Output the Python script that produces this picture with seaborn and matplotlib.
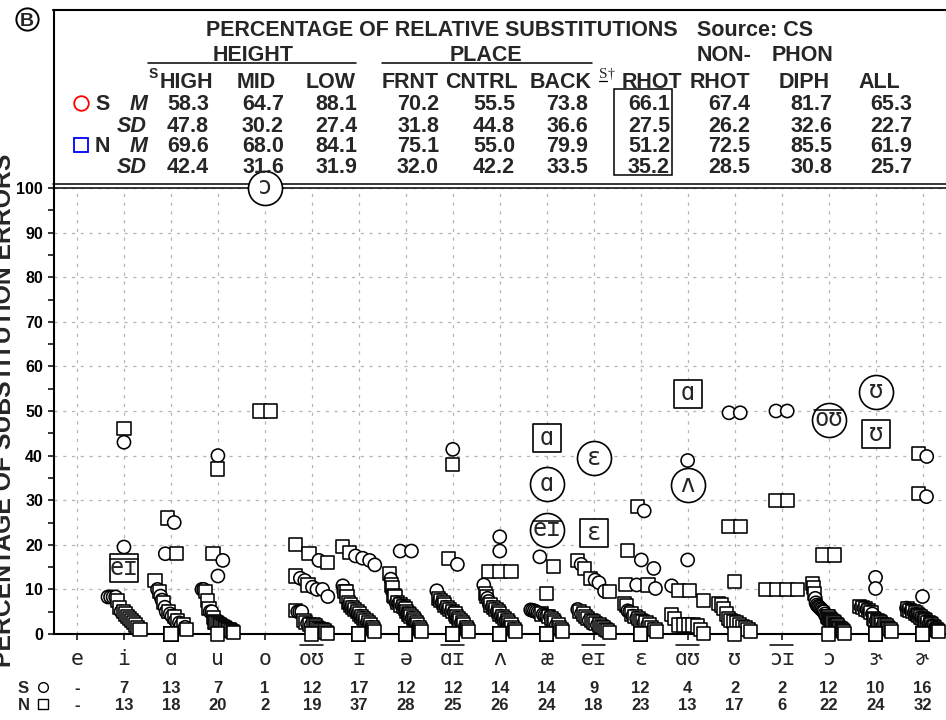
import numpy as np
import pandas as pd
import matplotlib
matplotlib.use("Agg")
import matplotlib.pyplot as plt
from matplotlib.lines import Line2D
from matplotlib.patches import Rectangle
from matplotlib.transforms import blended_transform_factory
import seaborn as sns

# ---------------------------------------------------------------- data
vowels = ["e", "i", "ɑ", "u", "o", "oʊ", "ɪ", "ə", "ɑɪ", "ʌ", "æ", "eɪ",
          "ɛ", "ɑʊ", "ʊ", "ɔɪ", "ɔ", "ɝ", "ɚ"]
diphthongs = ["oʊ", "ɑɪ", "eɪ", "ɑʊ", "ɔɪ"]

s_counts = ["-", "7", "13", "7", "1", "12", "17", "12", "12", "14", "14", "9",
            "12", "4", "2", "2", "12", "10", "16"]
n_counts = ["-", "13", "18", "20", "2", "19", "37", "28", "25", "26", "24", "18",
            "23", "13", "17", "6", "22", "24", "32"]

# per-speaker substitution percentages, S group (circles)
s_values = {
    "e": [],
    "i": [43, 19.5, 8.3, 8.3, 8.3, 8.3, 5],
    "ɑ": [25, 18, 10, 8.5, 7.6, 6, 5, 4.5, 4, 3, 2.5, 2, 1.5],
    "u": [40, 16.5, 13, 10, 10, 5, 5],
    "o": [],
    "oʊ": [16.5, 12.5, 12, 10.5, 10, 10, 8.4, 5, 5, 5, 2.3, 2],
    "ɪ": [17.5, 17, 16.5, 15.5, 10.8, 9.5, 6.5, 6, 5.5, 5, 4.5, 4, 3.5, 3,
          2.5, 2, 1.5],
    "ə": [18.6, 18.6, 12.3, 7, 6.8, 6.5, 6.3, 6, 4.5, 3.5, 2.5, 1.5],
    "ɑɪ": [41.4, 15.6, 9.7, 7.5, 7, 6, 5.5, 5, 4.9, 3.5, 2.5, 1.5],
    "ʌ": [21.8, 18.6, 11, 8, 7.3, 6.5, 6, 5.5, 5, 4, 3.5, 3, 2, 1],
    "æ": [17.3, 5.4, 5.3, 5.2, 5, 4.8, 4.6, 4.4, 4.2, 4, 3.9, 2],
    "eɪ": [15.6, 12.1, 11.5, 9.6, 5.5, 4.5, 3, 2],
    "ɛ": [27.6, 16.6, 14.7, 11, 10.2, 5.2, 5, 4, 3.5, 2.5, 2, 1],
    "ɑʊ": [38.9, 16.6, 10.8],
    "ʊ": [49.6, 49.6],
    "ɔɪ": [50, 50],
    "ɔ": [8, 7, 6.5, 6.2, 6, 5.7, 5.5, 5.2, 5, 4.5, 4],
    "ɝ": [12.7, 10.2, 6, 5.8, 5.5, 5, 4.5, 3, 2],
    "ɚ": [39.8, 30.8, 8.4, 5.8, 5.5, 5.2, 5, 4.7, 4.4, 4, 3.6, 3.2, 2.8, 2.3,
          1.8, 1.3],
}

# N group (squares)
n_values = {
    "e": [],
    "i": [46, 7.5, 6, 5, 4.5, 4, 3.5, 3, 2.5, 2, 1.5, 1],
    "ɑ": [26, 18, 12, 9.5, 7, 5, 4, 3, 2, 1, 0, 0, 0, 0, 0, 0, 0, 0],
    "u": [37, 18, 9.5, 7.5, 5.8, 3.7, 2.7, 2.5, 2.3, 2.1, 1.9, 1.7, 1.5, 1.3,
          1.1, 0.9, 0.7, 0.5, 0.3, 0],
    "o": [50, 50],
    "oʊ": [20, 18, 16, 13, 11, 5.2, 3, 2.5, 2.2, 2, 1.8, 1.5, 1.3, 1.1, 0.9,
           0.7, 0.4, 0.2, 0],
    "ɪ": [19.6, 18.3, 9.5, 9.5, 8.5, 7, 6.5, 6, 5.5, 5, 4.5, 4, 3.5, 3, 2.5,
          2, 1.5, 1, 0.5] + [0] * 18,
    "ə": [13.6, 11, 10.4, 8.7, 8.4, 7, 6.5, 6.2, 5.8, 4.4, 5, 4.5, 4, 3.5, 3,
          2.5, 2, 1.5, 1, 0.5] + [0] * 8,
    "ɑɪ": [38, 17, 8, 7.5, 7, 6.5, 6, 5.5, 5, 4.5, 4, 3.5, 3, 2.5, 2, 1.5, 1,
           0.5] + [0] * 7,
    "ʌ": [14, 14, 14, 9.1, 8.4, 6.5, 6, 5.5, 5, 4.5, 4, 3.5, 3, 2.5, 2, 1.5, 1,
          0.5] + [0] * 8,
    "æ": [15.2, 9.1, 4.5, 4, 3.5, 3, 2.5, 2, 1.5, 1, 0.5] + [0] * 12,
    "eɪ": [16.4, 14.7, 12.5, 9.6, 5, 4.5, 4, 3.5, 3, 2.7, 2.4, 2, 1.7, 1.4, 1,
           0.7, 0.4],
    "ɛ": [28.5, 18.7, 11.1, 11, 6.9, 6.4, 4.5, 2.8, 4, 3.5, 3, 2.5, 2, 1.5, 1,
          0.5] + [0] * 7,
    "ɑʊ": [9.7, 9.7, 7.5, 4.3, 3.5, 2, 2, 2, 2, 1.8, 1, 0.2],
    "ʊ": [24.1, 24.1, 11.7, 6.9, 6.5, 5.8, 4.5, 3.5, 3, 2.8, 2.5, 2, 1.7, 1.4,
          1, 0.5, 0],
    "ɔɪ": [30, 30, 10, 10, 10, 10],
    "ɔ": [17.7, 17.7, 11.4, 10.5, 9.1, 4, 3.8, 3.5, 3.2, 3, 2.8, 2.5, 2.2, 2,
          1.8, 1.5, 1.2, 1, 0.7, 0.5, 0.2, 0],
    "ɝ": [6.2, 6, 5.6, 5.2, 4.8, 3.5, 3.2, 3, 2.8, 2.5, 2.2, 2, 1.8, 1.5, 1.2,
          1, 0.5] + [0] * 6,
    "ɚ": [40.4, 31.5, 5.6, 5.3, 5, 4.7, 4.4, 4.1, 3.8, 3.5, 3.2, 2.9, 2.6, 2.3,
          2, 1.7, 1.4, 1.1, 0.8, 0.5] + [0] * 12,
}

# speakers whose errors were dominated by one substitute vowel
lab_vowel = ["o", "i", "æ", "æ", "æ", "eɪ", "eɪ", "ɑʊ", "ɑʊ", "ɔ", "ɝ", "ɝ"]
lab_group = ["S", "N", "N", "S", "S", "S", "N", "N", "S", "S", "S", "N"]
lab_value = [100, 14.7, 43.9, 33.6, 23.3, 39.4, 22.6, 53.8, 33.3, 48, 54.3, 44.8]
lab_text = ["ɔ", "eɪ", "ɑ", "ɑ", "eɪ", "ɛ", "ɛ", "ɑ", "ʌ", "oʊ", "ʊ", "ʊ"]

# summary table
col_names = ["HIGH", "MID", "LOW", "FRNT", "CNTRL", "BACK", "RHOT", "RHOT",
             "DIPH", "ALL"]
s_mean = [58.3, 64.7, 88.1, 70.2, 55.5, 73.8, 66.1, 67.4, 81.7, 65.3]
s_sd = [47.8, 30.2, 27.4, 31.8, 44.8, 36.6, 27.5, 26.2, 32.6, 22.7]
n_mean = [69.6, 68.0, 84.1, 75.1, 55.0, 79.9, 51.2, 72.5, 85.5, 61.9]
n_sd = [42.4, 31.6, 31.9, 32.0, 42.2, 33.5, 35.2, 28.5, 30.8, 25.7]

W, H = 946, 720
X_LEFT, Y_TOP, Y_BASE = 53.5, 188, 634
CAT_PX = (W - X_LEFT) / len(vowels)


# ---------------------------------------------------------------- layout helpers
def cascade_offsets(values, h=2.4, step=0.24, slope=0.14, span_max=0.68):
    """Stagger overlapping points of one category, high values to the left.

    Equal values sit side by side; close values step down a diagonal.
    Zeros and isolated points stay on the category centre.
    """
    v = np.asarray(values, float)
    off = np.zeros(len(v))
    idx = [i for i in np.argsort(-v, kind="stable") if v[i] > 0]
    runs, cur = [], []
    for i in idx:
        if cur and v[cur[-1]] - v[i] >= h:
            runs.append(cur)
            cur = []
        cur.append(i)
    if cur:
        runs.append(cur)
    for run in runs:
        if len(run) < 2:
            continue
        x = [0.0]
        for a, b in zip(run[:-1], run[1:]):
            dy = v[a] - v[b]
            x.append(x[-1] + max(step * (1 - dy / h), slope * dy))
        x = np.array(x)
        if x[-1] > span_max:
            x *= span_max / x[-1]
        off[run] = x - x[-1] / 2
    return off


rows = []
for k, v in enumerate(vowels):
    vals = list(s_values[v]) + list(n_values[v])
    grp = ["S"] * len(s_values[v]) + ["N"] * len(n_values[v])
    if not vals:
        continue
    off = cascade_offsets(vals)
    for val, g, o in zip(vals, grp, off):
        rows.append({"vowel": v, "pos": k, "x": k + o, "value": val, "group": g})
pts = pd.DataFrame(rows)
pts = pts.sort_values(["pos", "value"], ascending=[True, False], kind="stable")

pos = {v: k for k, v in enumerate(vowels)}
lab = pd.DataFrame({"vowel": lab_vowel, "group": lab_group,
                    "value": lab_value, "text": lab_text})
lab["x"] = lab["vowel"].map(pos)

# ---------------------------------------------------------------- figure
sns.set_theme(style="ticks")
plt.rcParams["font.family"] = ["Liberation Sans", "DejaVu Sans"]
plt.rcParams["axes.edgecolor"] = "black"
plt.rcParams["xtick.color"] = "black"
plt.rcParams["ytick.color"] = "black"

fig = plt.figure(figsize=(W / 100, H / 100), dpi=100, facecolor="white")


def fx(x):
    return x / W


def fy(y):
    return 1 - y / H


ax = fig.add_axes([fx(X_LEFT), fy(Y_BASE), (W - X_LEFT) / W,
                   (Y_BASE - Y_TOP) / H])
ax.set_xlim(-0.5, len(vowels) - 0.5)
ax.set_ylim(0, 100)
ax.set_axisbelow(True)

ax.grid(True, which="major", color="#b4b4b4", linestyle=(0, (2.5, 4.5)),
        linewidth=0.9)

sns.scatterplot(data=pts, x="x", y="value", style="group",
                markers={"S": "o", "N": "s"}, style_order=["S", "N"],
                s=90, color="white", edgecolor="black", linewidth=1.15,
                legend=False, ax=ax, zorder=4, clip_on=False)

circ = lab[lab.group == "S"]
box = lab[lab.group == "N"]
sns.scatterplot(data=circ, x="x", y="value", marker="o", s=600, color="white",
                edgecolor="black", linewidth=1.2, legend=False, ax=ax,
                zorder=6, clip_on=False)
sns.scatterplot(data=box, x="x", y="value", marker="s", s=400, color="white",
                edgecolor="black", linewidth=1.2, legend=False, ax=ax,
                zorder=6, clip_on=False)


def disp_offset(x, y, dx, dy):
    d = ax.transData.transform((x, y))
    return ax.transData.inverted().transform((d[0] + dx, d[1] + dy))


ipa_font = "DejaVu Sans Mono"
lab_fs = 17
fs_px = lab_fs * 100 / 72
for r in lab.itertuples():
    bx, by = disp_offset(r.x, r.value, 0, -0.27 * fs_px)
    ax.text(bx, by, r.text, ha="center", va="baseline", fontsize=lab_fs,
            family=ipa_font, zorder=7, clip_on=False)
    if r.text in diphthongs:
        half = 0.6 * fs_px * len(r.text) / 2
        (x0, y0) = disp_offset(r.x, r.value, -half, 0.4 * fs_px)
        (x1, _) = disp_offset(r.x, r.value, half, 0)
        ax.plot([x0, x1], [y0, y0], color="black", lw=1.1, zorder=7,
                clip_on=False)

# axes styling
for side in ["left", "bottom"]:
    ax.spines[side].set_linewidth(1.5)
ax.spines["top"].set_linewidth(1.1)
ax.spines["right"].set_visible(False)

ax.set_yticks(np.arange(0, 101, 10))
ax.set_yticks(np.arange(5, 100, 10), minor=True)
ax.set_yticklabels([str(t) for t in range(0, 101, 10)], fontweight="bold",
                   fontsize=11.5)
ax.tick_params(axis="y", which="both", direction="out", length=4.5, width=1.1,
               pad=3)
ax.set_xticks(range(len(vowels)))
ax.set_xticklabels([])
ax.tick_params(axis="x", which="both", direction="out", length=4.5, width=1.1)
ax.set_xlabel("")
ax.set_ylabel("")

# vowel labels beneath the axis, diphthongs overlined
xt = blended_transform_factory(ax.transData, fig.transFigure)
for k, v in enumerate(vowels):
    ax.text(k, fy(665), v, transform=xt, ha="center", va="baseline",
            fontsize=15.5, family=ipa_font, clip_on=False)
    if v in diphthongs:
        w = 11.5 / CAT_PX
        ax.plot([k - w, k + w], [fy(645)] * 2, transform=xt, color="black",
                lw=1.1, clip_on=False)
    ax.text(k, fy(693), s_counts[k], transform=xt, ha="center",
            va="baseline", fontsize=12, fontweight="bold")
    ax.text(k, fy(710), n_counts[k], transform=xt, ha="center",
            va="baseline", fontsize=12, fontweight="bold")

fig.text(fx(18), fy(693), "S", ha="left", va="baseline", fontsize=12,
         fontweight="bold")
fig.text(fx(18), fy(710), "N", ha="left", va="baseline", fontsize=12,
         fontweight="bold")
fig.add_artist(Line2D([fx(43)], [fy(687)], marker="o", ms=7, mfc="white",
                      mec="black", mew=1.0, transform=fig.transFigure))
fig.add_artist(Line2D([fx(43)], [fy(704)], marker="s", ms=7, mfc="white",
                      mec="black", mew=1.0, transform=fig.transFigure))

fig.text(fx(4), fy(410), "PERCENTAGE OF SUBSTITUTION ERRORS", rotation=90,
         ha="center", va="center", fontsize=17.8, fontweight="bold")


# ---------------------------------------------------------------- table header
def hline(x0, x1, y, lw=1.1, z=-1):
    fig.add_artist(Line2D([fx(x0), fx(x1)], [fy(y), fy(y)], color="black",
                          lw=lw, transform=fig.transFigure, zorder=z))


def ftext(x, y, s, ha="left", fs=15.5, **kw):
    fig.text(fx(x), fy(y), s, ha=ha, va="baseline", fontsize=fs,
             fontweight=kw.pop("fontweight", "bold"), **kw)


hline(53, W, 10, lw=1.5)
fig.add_artist(Line2D([fx(X_LEFT), fx(X_LEFT)], [fy(10), fy(190)],
                      color="black", lw=1.5, transform=fig.transFigure,
                      zorder=-1))
hline(53, W, 184, lw=1.1)

# panel letter in a circle
fig.add_artist(Line2D([fx(27)], [fy(19)], marker="o", ms=16, mfc="white",
                      mec="black", mew=1.4, transform=fig.transFigure))
fig.text(fx(27), fy(19), "B", ha="center", va="center_baseline", fontsize=14,
         fontweight="bold")

ftext(206, 35.7, "PERCENTAGE OF RELATIVE SUBSTITUTIONS")
ftext(697, 35.7, "Source: CS")
ftext(253, 60.7, "HEIGHT", ha="center")
ftext(486, 60.7, "PLACE", ha="center")
ftext(697, 60.7, "NON-")
ftext(833, 60.7, "PHON", ha="right")
hline(148, 356, 63)
hline(382, 592, 63)

col_right = [213, 276, 356, 439, 518, 592, 682, 750, 830, 900]
num_right = [209, 284, 357, 439, 515, 588, 670, 750, 832, 912]
for name, xr in zip(col_names, col_right):
    ftext(xr, 88, name, ha="right")
ftext(149, 78, "S", fs=10)
ftext(599, 78, "S", fs=11, fontweight="normal", family="Liberation Serif")
ftext(608, 78, "†", fs=10, fontweight="normal", family="Liberation Serif")
hline(599, 607, 80.5, lw=0.9, z=2)

for row_y, vals in zip([110, 131.5, 152.3, 173],
                       [s_mean, s_sd, n_mean, n_sd]):
    for xr, val in zip(num_right, vals):
        ftext(xr, row_y, f"{val:.1f}", ha="right")

for row_y, lbl in zip([110, 131.5, 152.3, 173], ["M", "SD", "M", "SD"]):
    ftext(147, row_y, lbl, ha="right", style="italic")
ftext(95, 110, "S")
ftext(95, 152.3, "N")
fig.add_artist(Line2D([fx(80.5)], [fy(102.5)], marker="o", ms=10.5,
                      mfc="none", mec="red", mew=1.3,
                      transform=fig.transFigure))
fig.add_artist(Line2D([fx(80.5)], [fy(145)], marker="s", ms=10.5,
                      mfc="none", mec="blue", mew=1.3,
                      transform=fig.transFigure))
fig.add_artist(Rectangle((fx(614), fy(175)), (672 - 614) / W, (175 - 89) / H,
                         transform=fig.transFigure, fill=False,
                         edgecolor="black", lw=1.1))

fig.savefig("out.png", dpi=100, facecolor="white")
